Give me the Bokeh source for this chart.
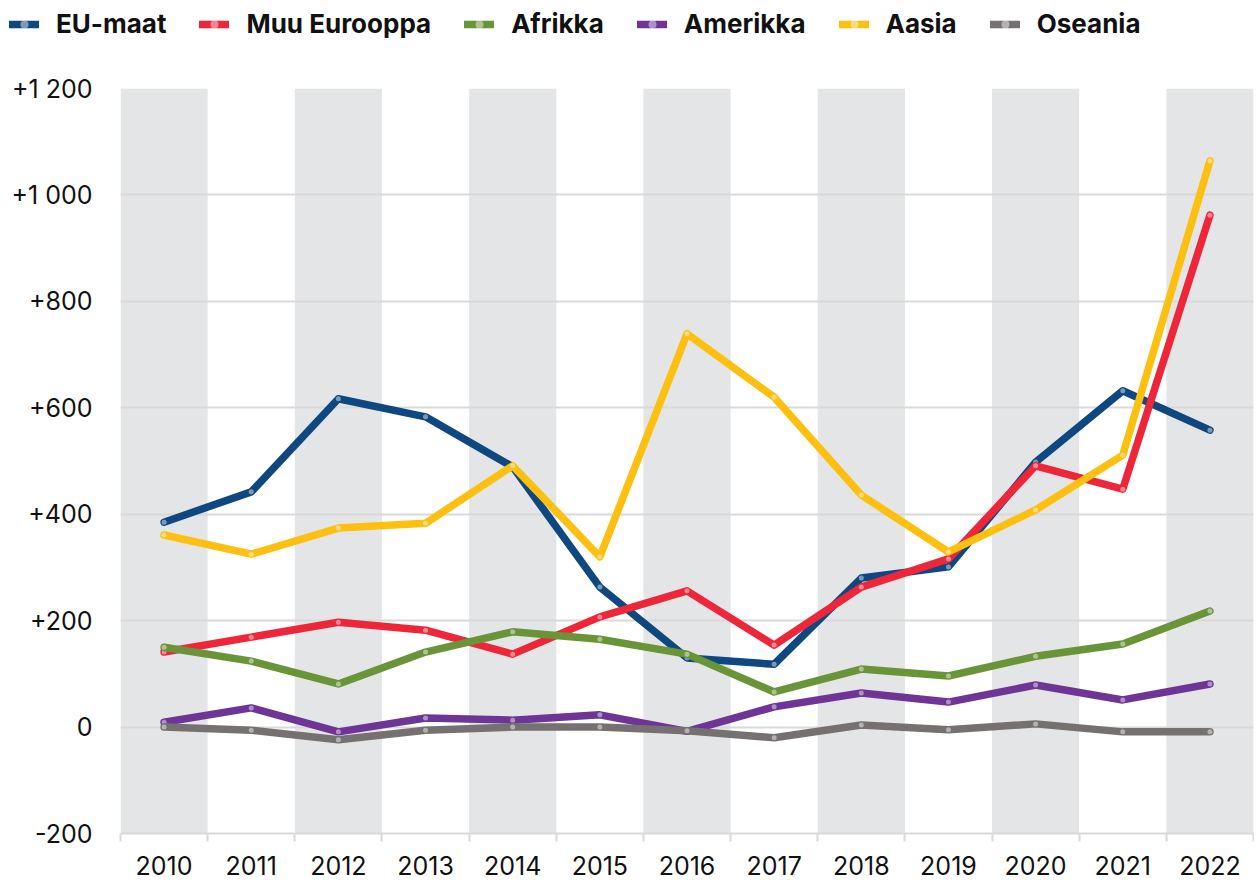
from bokeh.plotting import figure
from bokeh.models import (FixedTicker, BoxAnnotation, Legend, LegendItem, Range1d)
from bokeh.embed import file_html
from bokeh.resources import INLINE

years = ["2010", "2011", "2012", "2013", "2014", "2015", "2016",
         "2017", "2018", "2019", "2020", "2021", "2022"]

eu_maat = [385, 442, 617, 583, 489, 263, 130, 118, 280, 301, 498, 632, 558]
muu_eurooppa = [141, 169, 197, 182, 137, 207, 256, 154, 263, 316, 491, 447, 962]
afrikka = [150, 124, 81, 141, 179, 165, 137, 66, 109, 96, 133, 156, 218]
amerikka = [9, 36, -9, 17, 13, 23, -8, 38, 64, 47, 79, 51, 81]
aasia = [361, 325, 374, 383, 491, 320, 739, 620, 436, 329, 408, 511, 1064]
oseania = [0, -6, -24, -6, 0, 0, -7, -20, 4, -5, 6, -9, -9]

series_names = ["EU-maat", "Muu Eurooppa", "Afrikka", "Amerikka", "Aasia", "Oseania"]
series_values = [eu_maat, muu_eurooppa, afrikka, amerikka, aasia, oseania]
series_colors = ["#0f4880", "#ee2639", "#6a9438", "#6e3596", "#fdc010", "#767171"]

y_ticks = [-200, 0, 200, 400, 600, 800, 1000, 1200]
y_tick_labels = ["-200", "0", "+200", "+400", "+600", "+800", "+1 000", "+1 200"]

FONT = "Inter"
LINE_W = 7.5
W = 1254
LEG_H = 68

xs = list(range(len(years)))

# ---------------- legend strip (separate root, no frame alignment) ----------------
leg = figure(width=W, height=LEG_H, output_backend="svg", toolbar_location=None,
             x_range=Range1d(-100, -99), y_range=Range1d(-100, -99),
             x_axis_location=None, y_axis_location=None,
             min_border_left=0, min_border_right=0, min_border_top=0, min_border_bottom=0)
leg.outline_line_color = None
leg.xgrid.grid_line_color = None
leg.ygrid.grid_line_color = None

items = []
for name, vals, col in zip(series_names, series_values, series_colors):
    lr = leg.line(xs, vals, line_color=col, line_width=LINE_W, line_cap="round")
    sr = leg.scatter(xs, vals, size=5, fill_color="white", fill_alpha=0.45, line_color=None)
    items.append(LegendItem(label=name, renderers=[lr, sr]))

legend = Legend(items=items, orientation="horizontal", location=(9, LEG_H - 39),
                glyph_width=30, glyph_height=20, label_standoff=17, spacing=33,
                padding=4, margin=0, border_line_color=None, background_fill_alpha=0,
                label_text_font=FONT, label_text_font_style="bold",
                label_text_font_size="26px", label_text_color="#111111")
leg.add_layout(legend)

# ---------------- main chart ----------------
p = figure(width=W, height=813, output_backend="svg", toolbar_location=None,
           x_range=Range1d(-0.5, len(years) - 0.5), y_range=Range1d(-200, 1200),
           min_border_left=120, min_border_right=1, min_border_top=20,
           min_border_bottom=48)
p.outline_line_color = None
p.background_fill_color = "white"

for i in range(0, len(years), 2):
    p.add_layout(BoxAnnotation(left=i - 0.5, right=i + 0.5,
                               fill_color="#e4e5e7", fill_alpha=1.0, line_color=None,
                               level="image"))

p.xgrid.grid_line_color = None
p.ygrid.ticker = FixedTicker(ticks=y_ticks)
p.ygrid.grid_line_color = "#d9d9d9"
p.ygrid.grid_line_width = 2

p.yaxis.ticker = FixedTicker(ticks=y_ticks)
p.yaxis.major_label_overrides = {t: l for t, l in zip(y_ticks, y_tick_labels)}
p.yaxis.axis_line_color = None
p.yaxis.major_tick_line_color = None
p.yaxis.minor_tick_line_color = None
p.yaxis.major_tick_out = 0
p.yaxis.major_label_standoff = 28
p.yaxis.major_label_text_font = FONT
p.yaxis.major_label_text_font_size = "25px"
p.yaxis.major_label_text_color = "#111111"

p.xaxis.ticker = FixedTicker(ticks=xs, minor_ticks=[i - 0.5 for i in range(len(years) + 1)])
p.xaxis.major_label_overrides = {i: y for i, y in enumerate(years)}
p.xaxis.axis_line_color = "#d9d9d9"
p.xaxis.axis_line_width = 2
p.xaxis.major_tick_line_color = None
p.xaxis.major_tick_out = 0
p.xaxis.major_tick_in = 0
p.xaxis.minor_tick_line_color = "#d9d9d9"
p.xaxis.minor_tick_line_width = 2
p.xaxis.minor_tick_out = 8
p.xaxis.minor_tick_in = 0
p.xaxis.major_label_standoff = 14
p.xaxis.major_label_text_font = FONT
p.xaxis.major_label_text_font_size = "25px"
p.xaxis.major_label_text_color = "#111111"

for name, vals, col in zip(series_names, series_values, series_colors):
    p.line(xs, vals, line_color=col, line_width=LINE_W, line_join="round", line_cap="round")
    p.scatter(xs, vals, size=5, fill_color="white", fill_alpha=0.45, line_color=None)

open("out.html", "w").write(file_html([leg, p], INLINE))
